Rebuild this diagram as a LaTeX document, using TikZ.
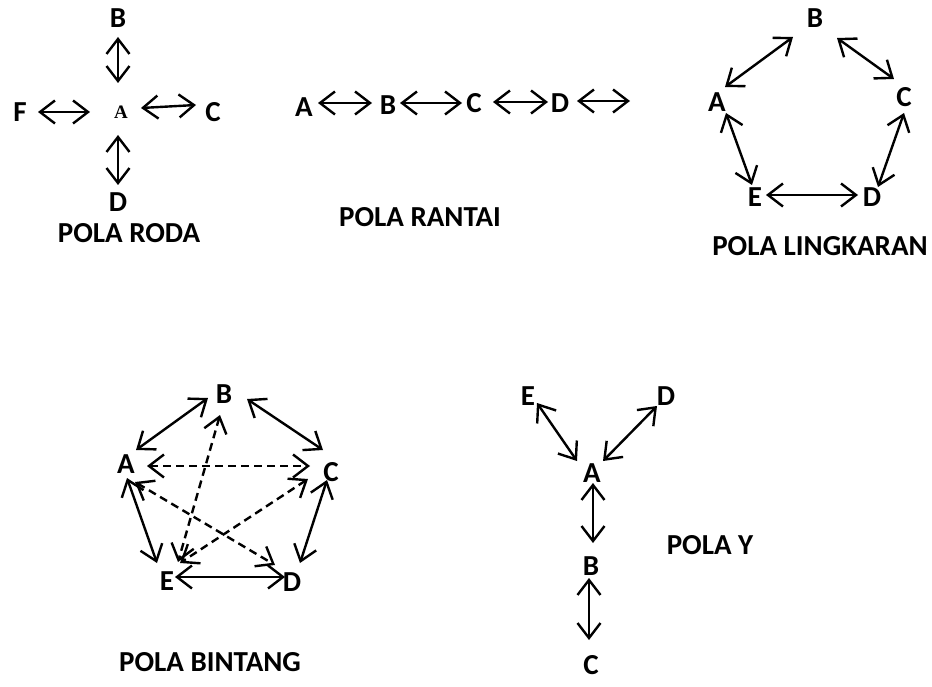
\documentclass[tikz,border=0pt]{standalone}
\usepackage{fontspec}
\setmainfont{Carlito}
\newfontfamily\timesfont{Liberation Serif}
\usetikzlibrary{arrows.meta}
\tikzset{
  lbl/.style={font=\bfseries\fontsize{29}{32}\selectfont, inner sep=0pt},
  smalla/.style={font=\timesfont\bfseries\fontsize{19}{21}\selectfont, inner sep=0pt},
  ar/.style={{Straight Barb[length=15pt,width=23pt]}-{Straight Barb[length=15pt,width=23pt]}, line width=2.4pt},
  dsh/.style={ar, dash pattern=on 8pt off 5pt}
}
\begin{document}
\begin{tikzpicture}[x=1pt,y=-1pt]
\useasboundingbox[fill=white] (0,0) rectangle (932,687);
% ---------- POLA RODA ----------
\node[lbl] (rB) at (118,18) {B};
\node[smalla] (rA) at (121,112) {A};
\node[lbl] (rC) at (213,112) {C};
\node[lbl] (rD) at (118,202) {D};
\node[lbl] (rF) at (20,112) {F};
\node[lbl] (tRoda) at (129,233) {POLA RODA};
\draw[ar] ([shift={(0,19)}]rB.center) -- ([shift={(-3,-29)}]rA.center);
\draw[ar] ([shift={(18,0)}]rF.center) -- ([shift={(-31,0)}]rA.center);
\draw[ar] ([shift={(20,-4)}]rA.center) -- ([shift={(-17,-7)}]rC.center);
\draw[ar] ([shift={(-3,23)}]rA.center) -- ([shift={(0,-17)}]rD.center);
% ---------- POLA RANTAI ----------
\node[lbl] (nA) at (304,107) {A};
\node[lbl] (nB) at (388,105) {B};
\node[lbl] (nC) at (474,103) {C};
\node[lbl] (nD) at (560,103) {D};
\coordinate (nEnd) at (630,101);
\node[lbl] (tRantai) at (420,217) {POLA RANTAI};
\draw[ar] ([shift={(14,-4)}]nA.center) -- ([shift={(-16,-2)}]nB.center);
\draw[ar] ([shift={(12,-2)}]nB.center) -- ([shift={(-12,0)}]nC.center);
\draw[ar] ([shift={(19,-1)}]nC.center) -- ([shift={(-12,-1)}]nD.center);
\draw[ar] ([shift={(17,-2)}]nD.center) -- (nEnd);
% ---------- POLA LINGKARAN ----------
\node[lbl] (lB) at (815,18) {B};
\node[lbl] (lA) at (717,102) {A};
\node[lbl] (lC) at (904,97) {C};
\node[lbl] (lE) at (755,197) {E};
\node[lbl] (lD) at (872,197) {D};
\node[lbl] (tLing) at (820,246) {POLA LINGKARAN};
\draw[ar] ([shift={(8,-15)}]lA.center) -- ([shift={(-22,19)}]lB.center);
\draw[ar] ([shift={(22,20)}]lB.center) -- ([shift={(-10,-18)}]lC.center);
\draw[ar] ([shift={(9,11)}]lA.center) -- ([shift={(-3,-12)}]lE.center);
\draw[ar] ([shift={(0,16)}]lC.center) -- ([shift={(6,-10)}]lD.center);
\draw[ar] ([shift={(11,-2)}]lE.center) -- ([shift={(-14,-2)}]lD.center);
% ---------- POLA BINTANG ----------
\node[lbl] (bB) at (224,394) {B};
\node[lbl] (bA) at (126,464) {A};
\node[lbl] (bC) at (331,472) {C};
\node[lbl] (bE) at (167,581) {E};
\node[lbl] (bD) at (292,582) {D};
\node[lbl] (tBintang) at (210,662) {POLA BINTANG};
\draw[ar] ([shift={(10,-14)}]bA.center) -- ([shift={(-16,4)}]bB.center);
\draw[ar] ([shift={(23,5)}]bB.center) -- ([shift={(-8,-22)}]bC.center);
\draw[ar] ([shift={(1,14)}]bA.center) -- ([shift={(-10,-18)}]bE.center);
\draw[ar] ([shift={(-4,8)}]bC.center) -- ([shift={(8,-19)}]bD.center);
\draw[ar] ([shift={(8,-4)}]bE.center) -- ([shift={(-7,-5)}]bD.center);
\draw[dsh] ([shift={(21,2)}]bA.center) -- ([shift={(-21,-6)}]bC.center);
\draw[dsh] ([shift={(-4,21)}]bB.center) -- ([shift={(11,-19)}]bE.center);
\draw[dsh] ([shift={(9,18)}]bA.center) -- ([shift={(-17,-17)}]bD.center);
\draw[dsh] ([shift={(-23,7)}]bC.center) -- ([shift={(13,-18)}]bE.center);
% ---------- POLA Y ----------
\node[lbl] (yE) at (528,396) {E};
\node[lbl] (yD) at (666,396) {D};
\node[lbl] (yA) at (592,473) {A};
\node[lbl] (yB) at (591,566) {B};
\node[lbl] (yC) at (591,665) {C};
\node[lbl] (tY) at (710,545) {POLA Y};
\draw[ar] ([shift={(9,7)}]yE.center) -- ([shift={(-15,-12)}]yA.center);
\draw[ar] ([shift={(-9,10)}]yD.center) -- ([shift={(11,-12)}]yA.center);
\draw[ar] ([shift={(1,10)}]yA.center) -- ([shift={(2,-23)}]yB.center);
\draw[ar] ([shift={(-2,12)}]yB.center) -- ([shift={(-2,-25)}]yC.center);
\end{tikzpicture}
\end{document}
